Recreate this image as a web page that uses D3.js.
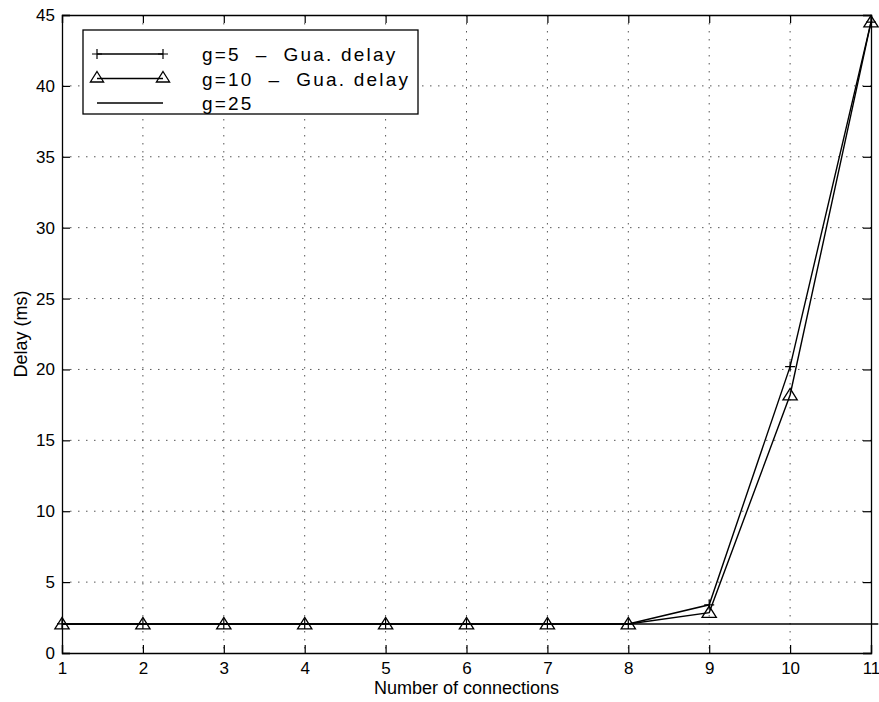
<!DOCTYPE html>
<html>
<head>
<meta charset="utf-8">
<title>Delay vs connections</title>
<style>
  html, body { margin: 0; padding: 0; background: #fff; overflow: hidden; }
  svg { display: block; }
  text { font-family: "Liberation Sans", Arial, sans-serif; fill: #000; }
</style>
</head>
<body>
<svg width="879" height="702"></svg>
<script src="https://d3js.org/d3.v7.min.js"></script>
<script>
const connections = [1, 2, 3, 4, 5, 6, 7, 8, 9, 10, 11];
const g5Delay  = [2.05, 2.05, 2.05, 2.05, 2.05, 2.05, 2.05, 2.05, 3.4, 20.2, 44.5];
const g10Delay = [2.05, 2.05, 2.05, 2.05, 2.05, 2.05, 2.05, 2.05, 2.85, 18.2, 44.5];
const g25X     = [1, 11.09];
const g25Delay = [2.05, 2.05];
const xTicks = [1, 2, 3, 4, 5, 6, 7, 8, 9, 10, 11];
const yTicks = [0, 5, 10, 15, 20, 25, 30, 35, 40, 45];
const legendLabels = ['g=5\u00a0\u00a0\u2013\u00a0\u00a0Gua. delay', 'g=10\u00a0\u00a0\u2013\u00a0\u00a0Gua. delay', 'g=25'];

const svg = d3.select('svg');
const margin = { top: 15, right: 8, bottom: 49, left: 62 };
const width = +svg.attr('width');
const height = +svg.attr('height');
const innerWidth = width - margin.left - margin.right;
const innerHeight = height - margin.top - margin.bottom;

const xScale = d3.scaleLinear().domain([1, 11]).range([0, innerWidth]);
const yScale = d3.scaleLinear().domain([0, 45]).range([innerHeight, 0]);

const g = svg.append('g').attr('transform', `translate(${margin.left},${margin.top})`);

// dotted grid
g.append('g').selectAll('line').data(xTicks.slice(1, -1)).join('line')
  .attr('x1', d => xScale(d)).attr('x2', d => xScale(d))
  .attr('y1', 0).attr('y2', innerHeight)
  .attr('stroke', '#555').attr('stroke-width', 1).attr('stroke-dasharray', '1.5,6.5');
g.append('g').selectAll('line').data(yTicks.slice(1, -1)).join('line')
  .attr('y1', d => yScale(d)).attr('y2', d => yScale(d))
  .attr('x1', 0).attr('x2', innerWidth)
  .attr('stroke', '#555').attr('stroke-width', 1).attr('stroke-dasharray', '1.5,6.5');

// axes, ticks pointing inward (box on all four sides)
const tk = 8;
const xAxis = g.append('g').attr('transform', `translate(0,${innerHeight})`)
  .call(d3.axisBottom(xScale).tickValues(xTicks).tickSize(-tk).tickPadding(9).tickFormat(d3.format('d')));
const yAxis = g.append('g')
  .call(d3.axisLeft(yScale).tickValues(yTicks).tickSize(-tk).tickPadding(7).tickFormat(d3.format('d')));
const xTop = g.append('g')
  .call(d3.axisTop(xScale).tickValues(xTicks).tickSize(-tk));
const yRight = g.append('g').attr('transform', `translate(${innerWidth},0)`)
  .call(d3.axisRight(yScale).tickValues(yTicks).tickSize(-tk));
xTop.selectAll('text').remove();
yRight.selectAll('text').remove();
[xAxis, yAxis, xTop, yRight].forEach(a => {
  a.attr('font-size', 17).attr('font-family', '"Liberation Sans", Arial, sans-serif');
  a.selectAll('path').attr('stroke', '#000').attr('stroke-width', 1.3);
  a.selectAll('line').attr('stroke', '#000').attr('stroke-width', 1.2);
});

// series
const line = d3.line().x(d => xScale(d[0])).y(d => yScale(d[1]));
const seriesG5 = connections.map((c, i) => [c, g5Delay[i]]);
const seriesG10 = connections.map((c, i) => [c, g10Delay[i]]);
const seriesG25 = g25X.map((c, i) => [c, g25Delay[i]]);

[seriesG25, seriesG5, seriesG10].forEach(s => {
  g.append('path').datum(s).attr('d', line)
    .attr('fill', 'none').attr('stroke', '#000').attr('stroke-width', 1.4);
});

const plusPath = (x, y, s) => `M${x - s},${y}H${x + s}M${x},${y - s}V${y + s}`;
const triPath = (x, y, s) => `M${x},${y - s}L${x + s * 1.1},${y + s * 0.75}L${x - s * 1.1},${y + s * 0.75}Z`;

g.append('g').selectAll('path').data(seriesG5).join('path')
  .attr('d', d => plusPath(xScale(d[0]), yScale(d[1]), 5))
  .attr('stroke', '#000').attr('stroke-width', 1.2).attr('fill', 'none');
g.append('g').selectAll('path').data(seriesG10).join('path')
  .attr('d', d => triPath(xScale(d[0]), yScale(d[1]), 6.5))
  .attr('stroke', '#000').attr('stroke-width', 1.3).attr('fill', 'none');

// axis titles
svg.append('text').attr('x', margin.left + innerWidth / 2).attr('y', 694)
  .attr('text-anchor', 'middle').style('font-size', '18px').text('Number of connections');
svg.append('text').attr('transform', `translate(27,${margin.top + innerHeight / 2}) rotate(-90)`)
  .attr('text-anchor', 'middle').style('font-size', '18px').text('Delay (ms)');

// legend
const legend = svg.append('g');
legend.append('rect').attr('x', 83).attr('y', 30).attr('width', 335).attr('height', 84)
  .attr('fill', '#fff').attr('stroke', '#000').attr('stroke-width', 1.3);
const markers = ['plus', 'tri', 'none'];
legendLabels.forEach((label, i) => {
  const y = 54 + i * 24.5;
  legend.append('line').attr('x1', 97).attr('x2', 163).attr('y1', y).attr('y2', y)
    .attr('stroke', '#000').attr('stroke-width', 1.4);
  [97, 163].forEach(x => {
    if (markers[i] === 'plus') legend.append('path').attr('d', plusPath(x, y, 5))
      .attr('stroke', '#000').attr('stroke-width', 1.2).attr('fill', 'none');
    if (markers[i] === 'tri') legend.append('path').attr('d', triPath(x, y - 1, 6))
      .attr('stroke', '#000').attr('stroke-width', 1.3).attr('fill', 'none');
  });
  legend.append('text').attr('x', 202).attr('y', y + 7).style('font-size', '19px')
    .style('letter-spacing', '2.2px').text(label);
});
</script>
</body>
</html>
